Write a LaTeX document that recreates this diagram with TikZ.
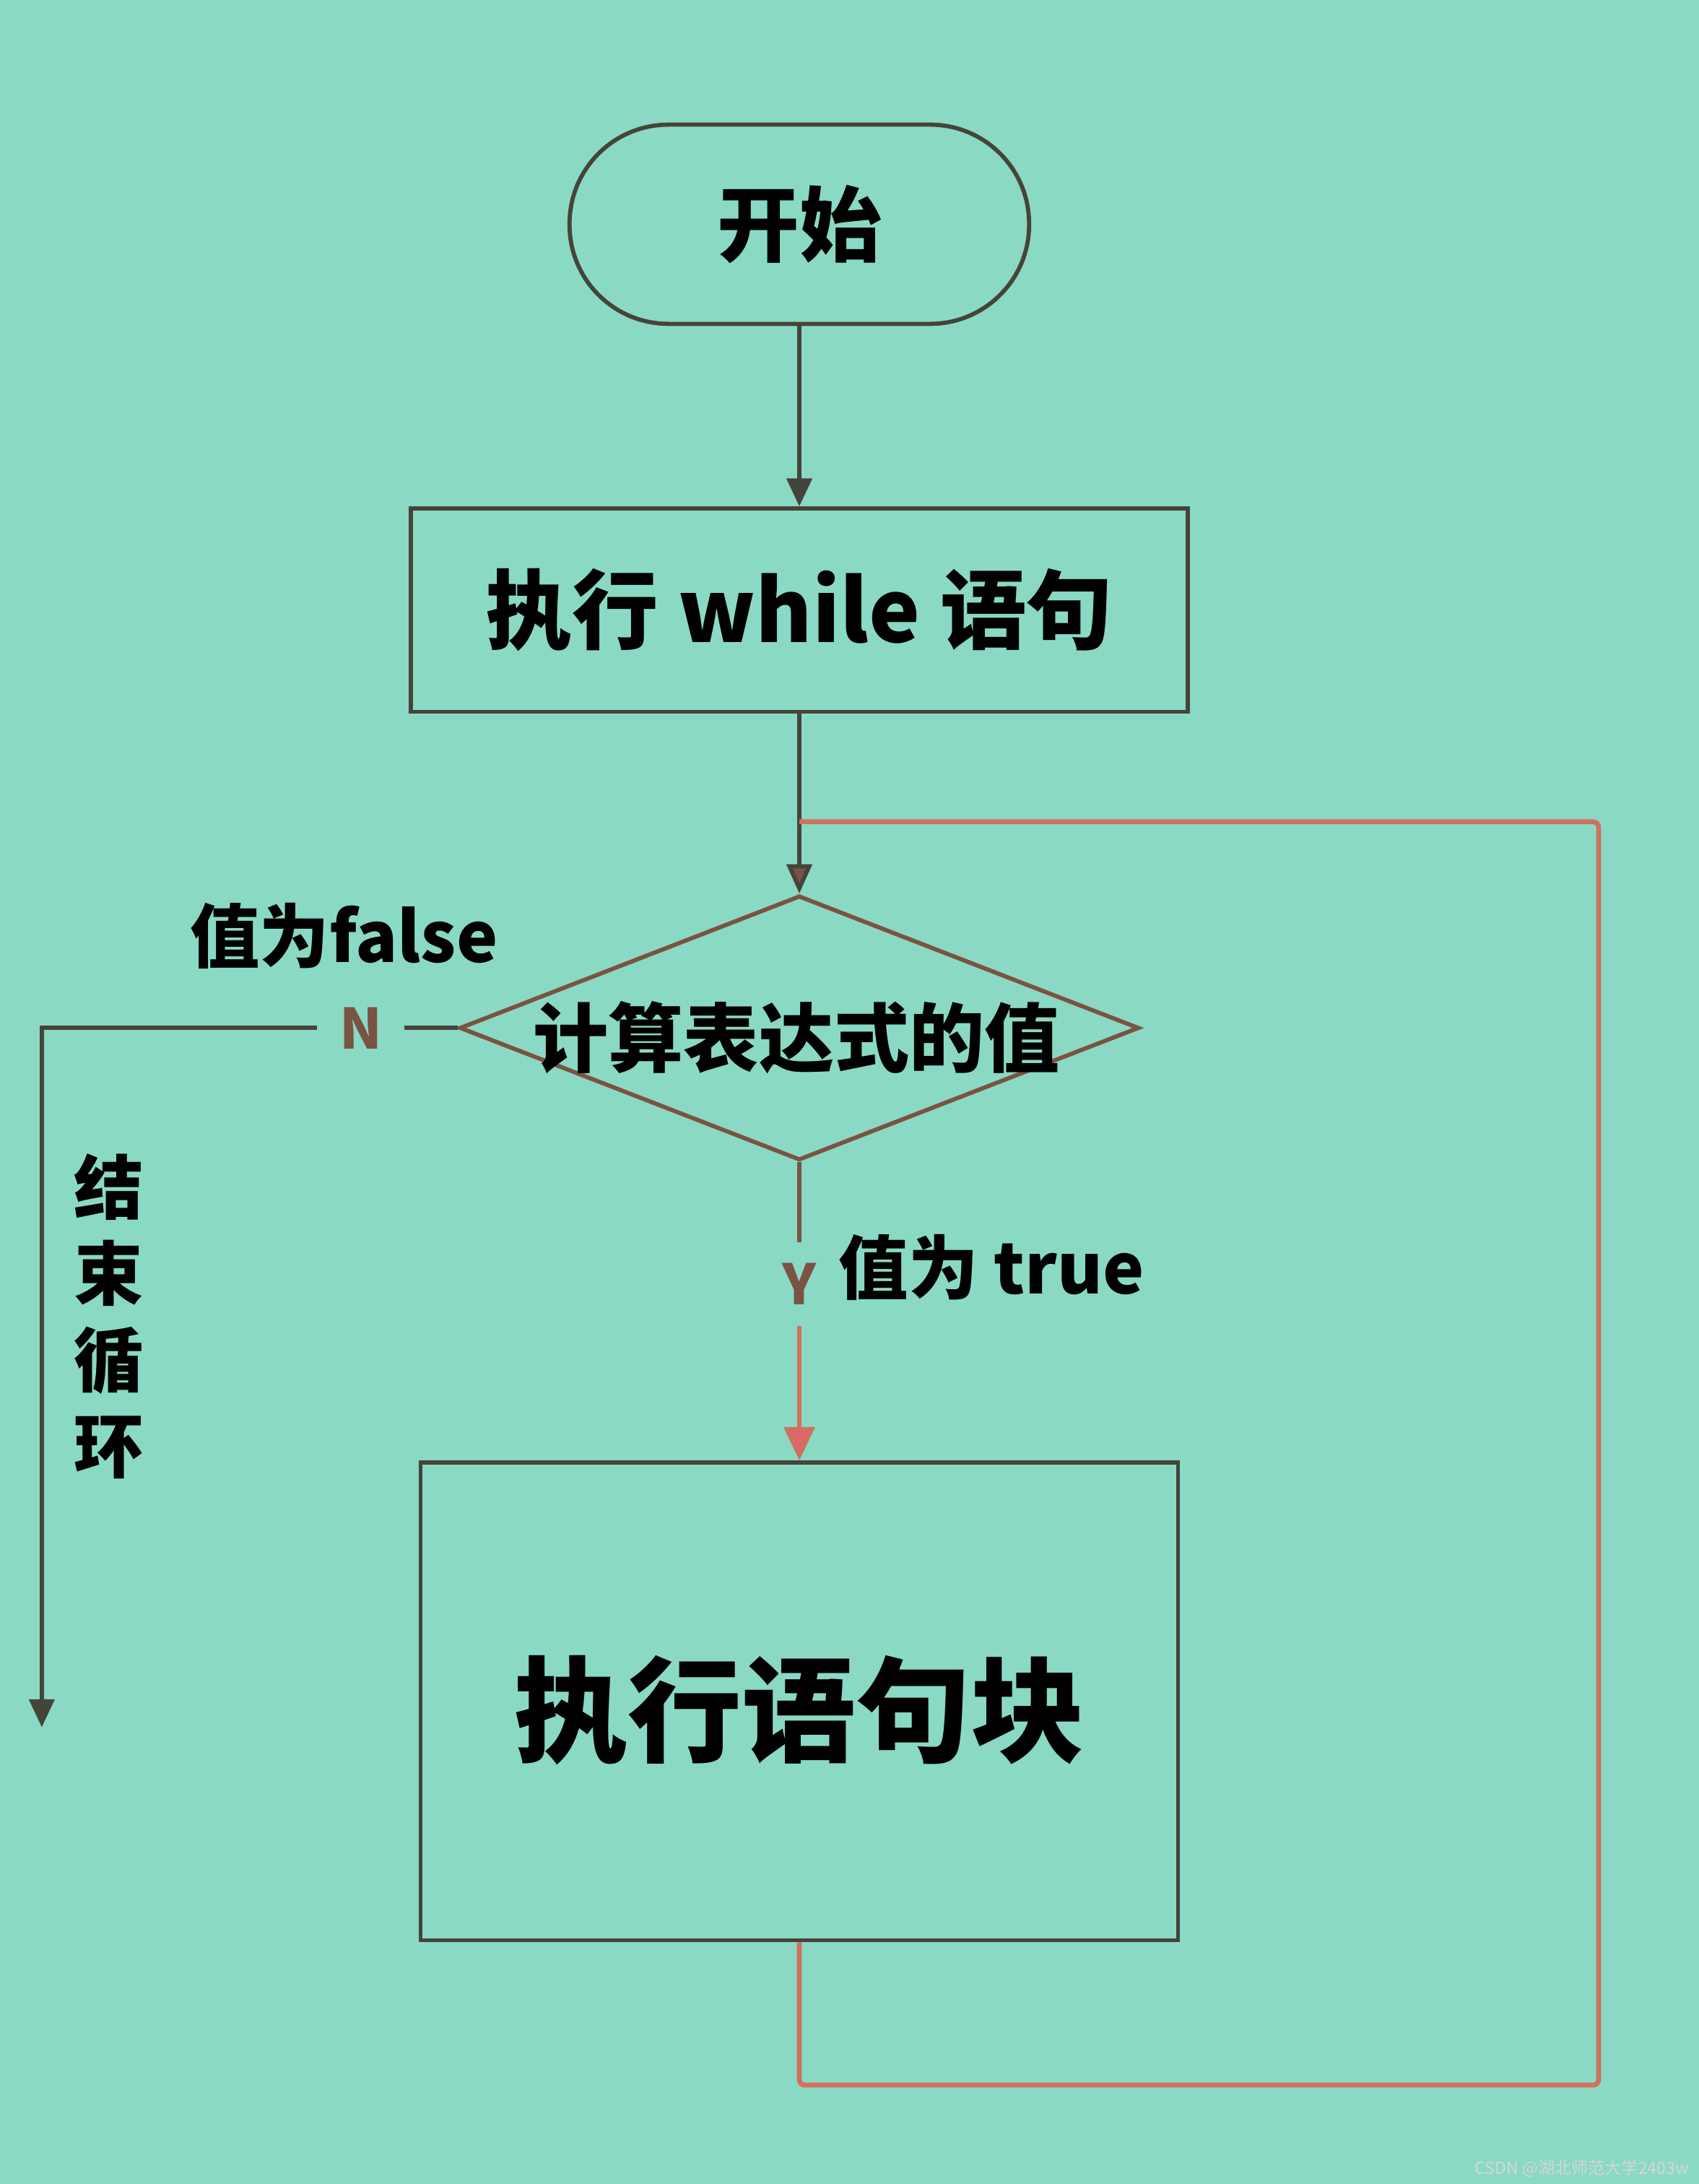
\documentclass[tikz,border=0pt]{standalone}
\usepackage{fontspec}
\usetikzlibrary{shapes.geometric,arrows.meta}
\newfontfamily\cjk{Noto Sans CJK SC Black}
\newfontfamily\cjkr{Noto Sans CJK SC}
\definecolor{bgc}{HTML}{8AD9C5}
\definecolor{linec}{HTML}{45443A}
\definecolor{brownc}{HTML}{7A5343}
\definecolor{loopc}{HTML}{D0705E}
\definecolor{redarrow}{HTML}{E0646A}
\definecolor{wmc}{HTML}{D6D6D6}
\newcommand\fsz[1]{\cjk\fontsize{#1}{#1}\selectfont}
\begin{document}
\begin{tikzpicture}[x=1pt,y=-1pt,
  box/.style={draw=linec, line width=3pt, inner sep=0pt, text=black},
  lab/.style={text=black, inner sep=0pt},
  darkline/.style={draw=linec, line width=3pt},
  brownline/.style={draw=brownc, line width=3pt},
  redline/.style={draw=loopc, line width=3.5pt, rounded corners=4pt},
  tip/.style={-{Triangle[length=20pt,width=18pt]}}
]
\fill[bgc] (0,0) rectangle (1220,1568);
\useasboundingbox (0,0) rectangle (1220,1568);

% nodes
\node[box, rounded corners=71pt, minimum width=330pt, minimum height=143pt, font=\fsz{59}] (start) at (574,161) {开始};
\node[box, minimum width=558pt, minimum height=146pt, font=\fsz{62}] (box1) at (574,438) {执行 while 语句};
\node[diamond, draw=brownc, line width=3pt, minimum width=488pt, minimum height=190pt, inner sep=0pt] (dia) at (574,738) {};
\node[lab, font=\fsz{54}] (diatext) at (572,745) {计算表达式的值};
\node[box, minimum width=544pt, minimum height=343pt] (box2) at (574,1221.5) {};
\node[lab, font=\fsz{82}] (box2text) at (574,1228) {执行语句块};

% labels
\node[lab, font=\fsz{50}] (falselab) at (247,672) {值为false};
\node[text=brownc, font=\fsz{40}, inner sep=0pt, minimum width=62pt] (N) at (259,738) {N};
\node[text=brownc, font=\fsz{40}, inner sep=0pt, minimum height=60pt] (Y) at (574,922) {Y};
\node[lab, font=\fsz{50}] (truelab) at (712,910) {值为 true};
\node[lab, align=center, font={\cjk\fontsize{50}{62}\selectfont}] (endlab) at (78,945) {结\\束\\循\\环};
\node[text=wmc, font={\cjkr\fontsize{12}{12}\selectfont}, inner sep=0pt, anchor=east] (wm) at (1213,1557) {CSDN @湖北师范大学2403w};

% coordinates
\coordinate (nc) at (30,738);
\coordinate (nend) at (30,1240);
\coordinate (j) at (574,590);
\coordinate (rt) at (1148,590);
\coordinate (rb) at (1148,1497);
\coordinate (lb) at (574,1497);

% connectors
\draw[darkline, tip] (start) -- (box1);
\draw[darkline, -{Triangle[length=21pt,width=18pt,fill=brownc]}] (box1.south) -- (dia.north);
\draw[darkline] (dia.west) -- (N.east);
\draw[darkline, tip] (N.west) -- (nc) -- (nend);
\draw[brownline] (dia.south) -- (Y.north);
\draw[draw=loopc, line width=3pt, -{Triangle[length=24pt,width=22pt,fill=redarrow]}] (Y.south) -- (box2.north);
\draw[redline] (box2.south) -- (lb) -- (rb) -- (rt) -- (j);
\end{tikzpicture}
\end{document}
